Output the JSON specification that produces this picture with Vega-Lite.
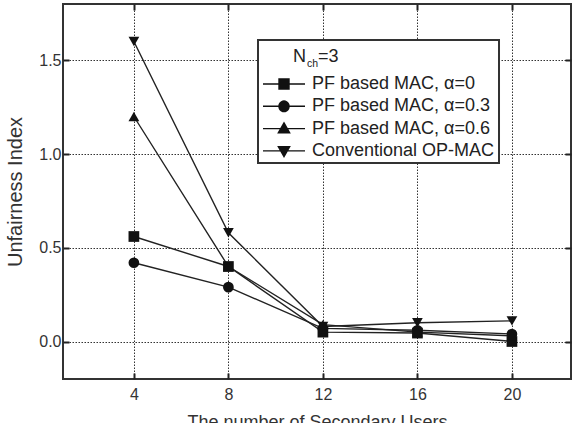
{
  "$schema": "https://vega.github.io/schema/vega-lite/v6.json",
  "width": 508,
  "height": 375,
  "autosize": "none",
  "padding": {"left": 63, "top": 4, "right": 4, "bottom": 44},
  "config": {
    "font": "Liberation Sans",
    "view": {"stroke": "#333", "strokeWidth": 2},
    "axis": {
      "domain": false,
      "labelFont": "Liberation Sans",
      "labelFontSize": 16,
      "labelColor": "#333",
      "titleFont": "Liberation Sans",
      "titleFontWeight": "normal",
      "titleColor": "#333",
      "tickColor": "#222",
      "tickWidth": 2,
      "tickSize": -6,
      "gridColor": "#333",
      "gridDash": [1.5, 1.5],
      "gridWidth": 1
    }
  },
  "data": {
    "values": [
      {"users": 4, "index": 0.56, "series": "PF based MAC, α=0"},
      {"users": 8, "index": 0.40, "series": "PF based MAC, α=0"},
      {"users": 12, "index": 0.05, "series": "PF based MAC, α=0"},
      {"users": 16, "index": 0.045, "series": "PF based MAC, α=0"},
      {"users": 20, "index": 0.0, "series": "PF based MAC, α=0"},
      {"users": 4, "index": 0.42, "series": "PF based MAC, α=0.3"},
      {"users": 8, "index": 0.29, "series": "PF based MAC, α=0.3"},
      {"users": 12, "index": 0.07, "series": "PF based MAC, α=0.3"},
      {"users": 16, "index": 0.06, "series": "PF based MAC, α=0.3"},
      {"users": 20, "index": 0.04, "series": "PF based MAC, α=0.3"},
      {"users": 4, "index": 1.2, "series": "PF based MAC, α=0.6"},
      {"users": 8, "index": 0.40, "series": "PF based MAC, α=0.6"},
      {"users": 12, "index": 0.09, "series": "PF based MAC, α=0.6"},
      {"users": 16, "index": 0.05, "series": "PF based MAC, α=0.6"},
      {"users": 20, "index": 0.03, "series": "PF based MAC, α=0.6"},
      {"users": 4, "index": 1.6, "series": "Conventional OP-MAC"},
      {"users": 8, "index": 0.58, "series": "Conventional OP-MAC"},
      {"users": 12, "index": 0.08, "series": "Conventional OP-MAC"},
      {"users": 16, "index": 0.10, "series": "Conventional OP-MAC"},
      {"users": 20, "index": 0.11, "series": "Conventional OP-MAC"}
    ]
  },
  "layer": [
    {
      "mark": {"type": "line", "color": "#222", "strokeWidth": 1.4},
      "encoding": {
        "x": {
          "field": "users", "type": "quantitative",
          "scale": {"domain": [1, 22.5], "nice": false, "zero": false},
          "axis": {"orient": "bottom", "values": [4, 8, 12, 16, 20], "grid": true, "labelPadding": 13, "titlePadding": 11, "titleFontSize": 18, "title": "The number of Secondary Users"}
        },
        "y": {
          "field": "index", "type": "quantitative",
          "scale": {"domain": [-0.2, 1.8], "nice": false, "zero": false},
          "axis": {"orient": "left", "values": [0, 0.5, 1, 1.5], "format": ".1f", "grid": true, "labelPadding": 8, "titlePadding": 13, "titleFontSize": 20, "title": "Unfairness Index"}
        },
        "detail": {"field": "series"}
      }
    },
    {
      "mark": {"type": "point", "filled": true, "color": "#111", "opacity": 1, "size": 115},
      "encoding": {
        "x": {"field": "users", "type": "quantitative", "axis": null},
        "y": {"field": "index", "type": "quantitative", "axis": null},
        "shape": {
          "field": "series", "type": "nominal",
          "scale": {
            "domain": ["PF based MAC, α=0", "PF based MAC, α=0.3", "PF based MAC, α=0.6", "Conventional OP-MAC"],
            "range": ["square", "circle", "triangle-up", "triangle-down"]
          },
          "legend": null
        }
      }
    },
    {
      "data": {"values": [{}]},
      "mark": {"type": "rect", "fill": "white", "stroke": "#333", "strokeWidth": 2},
      "encoding": {
        "x": {"datum": 9.253, "type": "quantitative", "axis": null},
        "x2": {"datum": 19.453},
        "y": {"datum": 1.608, "type": "quantitative", "axis": null},
        "y2": {"datum": 0.952}
      }
    },
    {
      "mark": {"type": "point", "filled": false, "color": "#111", "strokeWidth": 1.4, "opacity": 0},
      "encoding": {
        "x": {"field": "users", "type": "quantitative", "axis": {"orient": "top", "values": [4, 8, 12, 16, 20], "labels": false, "title": null, "grid": false, "tickSize": 6, "offset": -6}},
        "y": {"field": "index", "type": "quantitative", "axis": {"orient": "right", "values": [0, 0.5, 1, 1.5], "labels": false, "title": null, "grid": false, "tickSize": 6, "offset": -6}},
        "shape": {
          "field": "series", "type": "nominal",
          "scale": {
            "domain": ["PF based MAC, α=0", "PF based MAC, α=0.3", "PF based MAC, α=0.6", "Conventional OP-MAC"],
            "range": [
              "M-1,0H3.667M0.778,-0.556H1.889V0.556H0.778ZM0.778,-0.45H1.889M0.778,-0.35H1.889M0.778,-0.25H1.889M0.778,-0.15H1.889M0.778,-0.05H1.889M0.778,0.05H1.889M0.778,0.15H1.889M0.778,0.25H1.889M0.778,0.35H1.889M0.778,0.45H1.889",
              "M-1,0H3.667M0.778,0A0.556,0.556 0 1,0 1.889,0A0.556,0.556 0 1,0 0.778,0ZM1.006,-0.45H1.66M0.901,-0.35H1.765M0.836,-0.25H1.83M0.798,-0.15H1.868M0.779,-0.05H1.887M0.779,0.05H1.887M0.798,0.15H1.868M0.836,0.25H1.83M0.901,0.35H1.765M1.006,0.45H1.66",
              "M-1,0H3.667M1.333,-0.64L1.96,0.46H0.706ZM1.282,-0.55H1.384M1.225,-0.45H1.441M1.168,-0.35H1.498M1.111,-0.25H1.555M1.054,-0.15H1.612M0.997,-0.05H1.669M0.94,0.05H1.726M0.883,0.15H1.783M0.826,0.25H1.84M0.769,0.35H1.897M0.712,0.45H1.954",
              "M-1,0H3.667M1.333,0.64L1.96,-0.46H0.706ZM1.282,0.55H1.384M1.225,0.45H1.441M1.168,0.35H1.498M1.111,0.25H1.555M1.054,0.15H1.612M0.997,0.05H1.669M0.94,-0.05H1.726M0.883,-0.15H1.783M0.826,-0.25H1.84M0.769,-0.35H1.897M0.712,-0.45H1.954"
            ]
          },
          "legend": {
            "orient": "none",
            "legendX": 195,
            "legendY": 36,
            "title": " ",
            "titleFontSize": 18,
            "titlePadding": 12,
            "padding": 4,
            "symbolSize": 324,
            "symbolOpacity": 1,
            "symbolStrokeColor": "#111",
            "symbolStrokeWidth": 1.4,
            "labelFont": "Liberation Sans",
            "labelFontSize": 18,
            "labelColor": "#222",
            "labelOffset": 30,
            "labelLimit": 300,
            "rowPadding": 3.3
          }
        }
      }
    },
    {
      "data": {"values": [{}]},
      "mark": {"type": "text", "text": "N", "fontSize": 18, "align": "left", "baseline": "alphabetic", "color": "#222"},
      "encoding": {
        "x": {"datum": 10.73, "type": "quantitative", "axis": null},
        "y": {"datum": 1.492, "type": "quantitative", "axis": null}
      }
    },
    {
      "data": {"values": [{}]},
      "mark": {"type": "text", "text": "ch", "fontSize": 10.5, "align": "left", "baseline": "alphabetic", "color": "#222"},
      "encoding": {
        "x": {"datum": 11.33, "type": "quantitative", "axis": null},
        "y": {"datum": 1.464, "type": "quantitative", "axis": null}
      }
    },
    {
      "data": {"values": [{}]},
      "mark": {"type": "text", "text": "=3", "fontSize": 18, "align": "left", "baseline": "alphabetic", "color": "#222"},
      "encoding": {
        "x": {"datum": 11.79, "type": "quantitative", "axis": null},
        "y": {"datum": 1.492, "type": "quantitative", "axis": null}
      }
    }
  ],
  "resolve": {"scale": {"shape": "independent"}, "axis": {"x": "independent", "y": "independent"}}
}
